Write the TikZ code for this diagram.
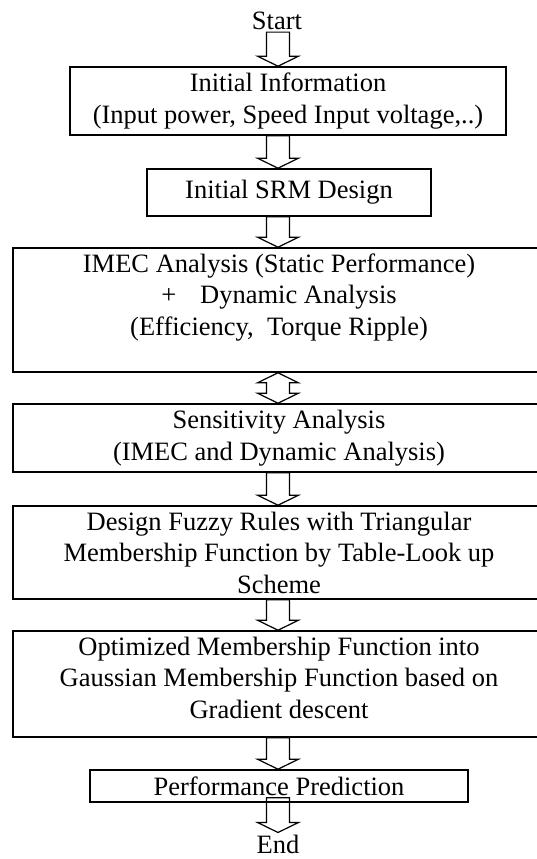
\documentclass[tikz,border=0pt]{standalone}
\usepackage{fontspec}
\setmainfont{Liberation Serif}
\usetikzlibrary{calc}
\tikzset{
	stepbox/.style={draw, line width=1.6pt, align=center, inner sep=0pt},
	word/.style={inner xsep=0pt, inner ysep=2pt},
	fat/.style={line width=1.2pt, to path={let \p1=(\tikztostart), \p2=(\tikztotarget) in
		(\x1-11.5pt,\y1) -- (\x1+11.5pt,\y1) -- (\x1+11.5pt,\y2+10pt) -- (\x1+20.5pt,\y2+10pt)
		-- (\x1,\y2) -- (\x1-20.5pt,\y2+10pt) -- (\x1-11.5pt,\y2+10pt) -- cycle}},
	fatboth/.style={line width=1.2pt, to path={let \p1=(\tikztostart), \p2=(\tikztotarget) in
		(\x1,\y1) -- (\x1+20.5pt,\y1-10pt) -- (\x1+11.5pt,\y1-10pt) -- (\x1+11.5pt,\y2+10pt)
		-- (\x1+20.5pt,\y2+10pt) -- (\x1,\y2) -- (\x1-20.5pt,\y2+10pt) -- (\x1-11.5pt,\y2+10pt)
		-- (\x1-11.5pt,\y1-10pt) -- (\x1-20.5pt,\y1-10pt) -- cycle}},
}

\begin{document}
\begin{tikzpicture}[x=1pt, y=-1pt, font=\fontsize{26.5}{31.5}\selectfont]
	\useasboundingbox (0,0) rectangle (537,859);
	\clip (0,0) rectangle (537,859);
	\coordinate (ax) at (278,0);

	\node (START) [word] at (277,21) {Start};
	\node (INFO) [stepbox, minimum width=436pt, minimum height=68pt] at (288,101)
		{Initial Information\\(Input power, Speed Input voltage,..)};
	\node (SRM) [stepbox, minimum width=284pt, minimum height=47pt] at (289,192.5) {Initial SRM Design};
	\node (IMEC) [stepbox, minimum width=532pt, minimum height=124pt] at (279,310)
		{IMEC Analysis (Static Performance)\\+\hspace{24pt}Dynamic Analysis\\(Efficiency,\ \ Torque Ripple)\\ \mbox{}};
	\node (SENS) [stepbox, minimum width=532pt, minimum height=68pt] at (279,438)
		{Sensitivity Analysis\\(IMEC and Dynamic Analysis)};
	\node (FUZZY) [stepbox, minimum width=532pt, minimum height=93pt] at (279,552.5)
		{Design Fuzzy Rules with Triangular\\Membership Function by Table-Look up\\Scheme};
	\node (GAUSS) [stepbox, minimum width=532pt, minimum height=106pt] at (279,684)
		{Optimized Membership Function into\\Gaussian Membership Function based on\\Gradient descent\\[-18.5pt]\mbox{}};
	\node (PRED) [stepbox, minimum width=378pt, minimum height=32pt] at (279,786) {Performance Prediction};
	\node (END) [word] at (278,844) {End};

	\path [draw, fat] (START.south -| ax) to (INFO.north -| ax);
	\path [draw, fat] (INFO.south -| ax) to (SRM.north -| ax);
	\path [draw, fat] (SRM.south -| ax) to (IMEC.north -| ax);
	\path [draw, fatboth] (IMEC.south -| ax) to (SENS.north -| ax);
	\path [draw, fat] (SENS.south -| ax) to (FUZZY.north -| ax);
	\path [draw, fat] (FUZZY.south -| ax) to (GAUSS.north -| ax);
	\path [draw, fat] (GAUSS.south -| ax) to (PRED.north -| ax);
	\path [draw, fat] ($(PRED.south -| ax)+(0,-5)$) to (END.north -| ax);
\end{tikzpicture}
\end{document}
